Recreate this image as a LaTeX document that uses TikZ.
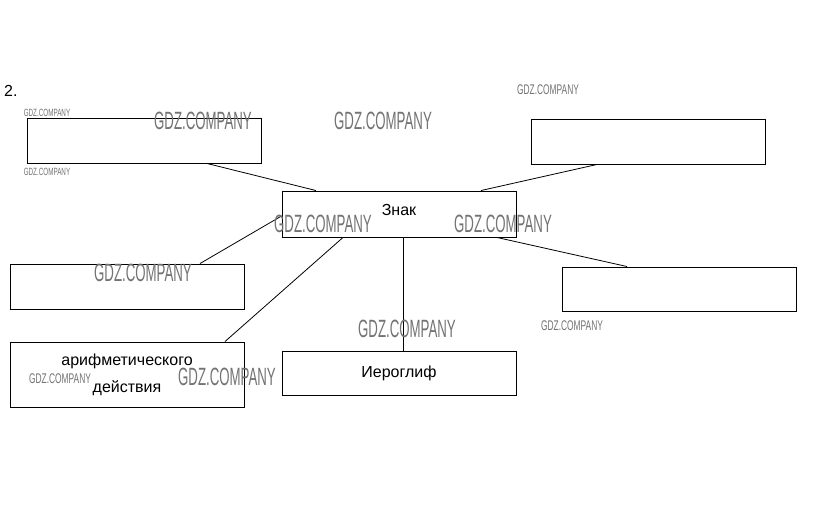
\documentclass[tikz,border=0pt]{standalone}
\usepackage{fontspec}
\setmainfont{Liberation Sans}
\usetikzlibrary{calc}
\tikzset{
  box/.style={draw=black, line width=0.95pt, minimum width=234pt, minimum height=45pt, inner sep=0pt, font=\fontsize{16}{18}\selectfont},
  conn/.style={draw=black, line width=0.8pt},
  wmbig/.style={text=black!55, inner sep=0pt, font=\fontsize{25}{25}\selectfont},
  wmsmall/.style={text=black!55, inner sep=0pt, font=\fontsize{14}{14}\selectfont}
}
\newcommand{\wmb}{\scalebox{0.53}[1]{GDZ.COMPANY}}
\newcommand{\wms}{\scalebox{0.6}[1]{GDZ.COMPANY}}
\begin{document}
\begin{tikzpicture}[x=1pt,y=-1pt]
\useasboundingbox[fill=white] (0,0) rectangle (823,511);
\node[anchor=west, inner sep=0pt, font=\fontsize{16}{16}\selectfont] (num) at (4,91) {2.};

\node[box] (tl) at (144,140.5) {};
\node[box] (tr) at (648,141.5) {};
\node[box, minimum height=46pt] (z) at (399,214) {\raisebox{8pt}{Знак}};
\node[box] (ml) at (127,286.5) {};
\node[box, minimum height=44pt] (mr) at (679,289) {};
\node[box, minimum height=65pt, align=center] (bl) at (127,374.5) {арифметического\\[9pt]действия};
\node[box, minimum height=44pt] (h) at (399,373) {\raisebox{3pt}{Иероглиф}};

\draw[conn] ([xshift=63pt]tl.south) -- ([xshift=-83pt]z.north);
\draw[conn] ([xshift=-51pt]tr.south) -- ([xshift=82pt]z.north);
\draw[conn] ([yshift=-2pt]z.west) -- ([xshift=73pt]ml.north);
\draw[conn] ([xshift=-56pt]z.south) -- ([xshift=98pt]bl.north);
\draw[conn] ([xshift=4pt]z.south) -- ([xshift=4pt]h.north);
\draw[conn] ([xshift=98pt]z.south) -- ([xshift=-52pt]mr.north);

% watermarks
\node[wmsmall, font=\fontsize{10.5}{10.5}\selectfont] (w1) at (47,113) {\wms};
\node[wmsmall, font=\fontsize{10.5}{10.5}\selectfont] (w2) at (47,172) {\wms};
\node[wmbig] (w3) at (203,121) {\wmb};
\node[wmbig] (w4) at (383,121) {\wmb};
\node[wmsmall] (w5) at (548,90) {\wms};
\node[wmbig] (w6) at (323,224) {\wmb};
\node[wmbig] (w7) at (503,224) {\wmb};
\node[wmbig] (w8) at (143,273) {\wmb};
\node[wmsmall] (w9) at (572,326) {\wms};
\node[wmbig] (w10) at (407,329) {\wmb};
\node[wmsmall] (w11) at (60,379) {\wms};
\node[wmbig] (w12) at (227,377) {\wmb};
\end{tikzpicture}
\end{document}
